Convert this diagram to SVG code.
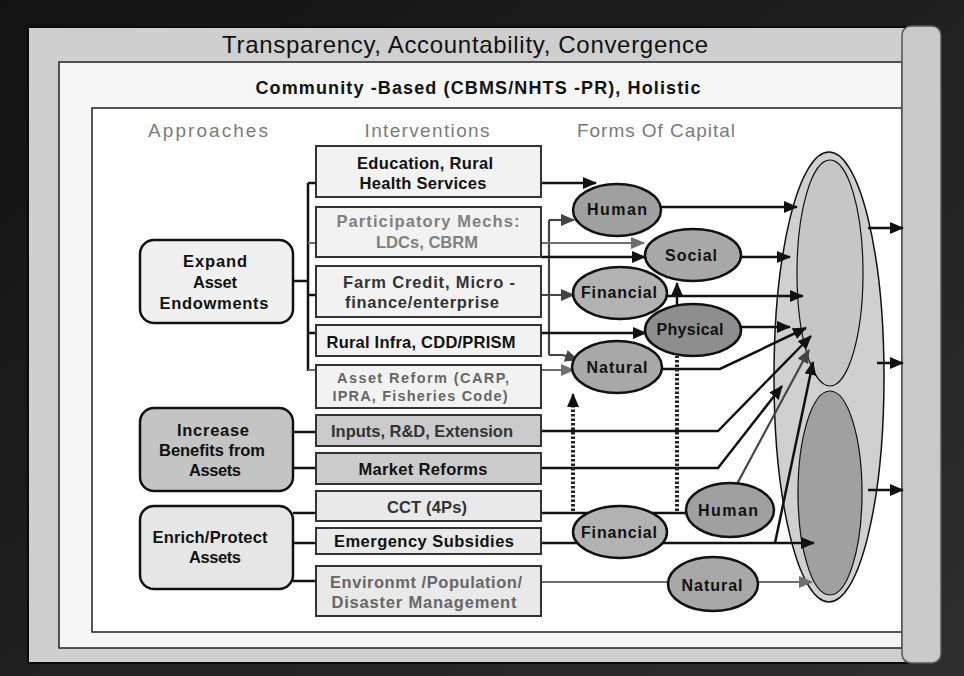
<svg xmlns="http://www.w3.org/2000/svg" width="964" height="676" viewBox="0 0 964 676">
<defs>
<linearGradient id="bg" x1="0" y1="0" x2="1" y2="1">
<stop offset="0" stop-color="#121212"/><stop offset="1" stop-color="#2e2e2e"/>
</linearGradient>
<marker id="ab" markerUnits="userSpaceOnUse" markerWidth="14" markerHeight="12" refX="13" refY="6" orient="auto"><path d="M0,0 L14,6 L0,12 z" fill="#111"/></marker>
<marker id="ad" markerUnits="userSpaceOnUse" markerWidth="14" markerHeight="12" refX="13" refY="6" orient="auto"><path d="M0,0 L14,6 L0,12 z" fill="#444"/></marker>
<marker id="ag" markerUnits="userSpaceOnUse" markerWidth="14" markerHeight="12" refX="13" refY="6" orient="auto"><path d="M0,0 L14,6 L0,12 z" fill="#6e6e6e"/></marker>
<style>
.t{font-family:"Liberation Sans",Arial,sans-serif;font-weight:bold;font-size:16.5px;text-anchor:middle}
.e{font-size:16px}
.s{font-size:14.5px}
.k{fill:#111}.d{fill:#333}.g{fill:#808080}.m{fill:#666}
.box{stroke:#333;stroke-width:2}
.lt{fill:#f2f2f2}.dk{fill:#cbcbcb}.md{fill:#e9e9e9}
.ap{stroke:#111;stroke-width:2.5}
.cap{stroke:#111;stroke-width:2.5}
.hd{font-family:"Liberation Sans",Arial,sans-serif;font-size:19px;fill:#7a7a7a;text-anchor:middle}
.c{fill:none;stroke:#111;stroke-width:2.5}
.cd{fill:none;stroke:#444;stroke-width:2.2}
.cg{fill:none;stroke:#6e6e6e;stroke-width:2.2}
.dot{fill:none;stroke:#222;stroke-width:4;stroke-dasharray:2.5 2}
</style>
</defs>
<rect width="964" height="676" fill="url(#bg)"/>
<g id="frames">
<rect x="28" y="27" width="880" height="636" fill="#cfcfcf" stroke="#0a0a0a" stroke-width="2"/>
<rect x="59" y="62" width="843" height="586" fill="#f6f6f6" stroke="#222" stroke-width="1.5"/>
<rect x="92" y="108" width="810" height="524" fill="#fff" stroke="#222" stroke-width="1.5"/>
<rect x="902" y="26" width="39" height="637" rx="9" fill="#c9c9c9" stroke="#555" stroke-width="1.5"/>
<text x="465" y="53" font-family="'Liberation Sans',Arial,sans-serif" font-size="24" fill="#111" text-anchor="middle" textLength="486">Transparency, Accountability, Convergence</text>
<text x="478" y="94" font-family="'Liberation Sans',Arial,sans-serif" font-size="18" font-weight="bold" fill="#111" text-anchor="middle" textLength="445">Community -Based (CBMS/NHTS -PR), Holistic</text>
<text class="hd" x="208" y="137" textLength="120">Approaches</text>
<text class="hd" x="427" y="137" textLength="125">Interventions</text>
<text class="hd" x="656" y="137" textLength="158">Forms Of Capital</text>
</g>
<g id="outcome">
<ellipse cx="829" cy="377" rx="55" ry="225" fill="#d0d0d0" stroke="#111" stroke-width="1.5"/>
<ellipse cx="830" cy="273" rx="33" ry="113" fill="#c6c6c6" stroke="#111" stroke-width="1.2"/>
<ellipse cx="830" cy="493" rx="32" ry="102" fill="#a0a0a0" stroke="#111" stroke-width="1.2"/>
</g>
<g id="connectors">
<path class="c" d="M293 281 H308 M308 183 V371 M308 183 H316 M308 295 H316 M308 333 H316"/>
<path class="cg" d="M308 243 H316 M308 370 H316"/>
<path class="c" d="M293 432 H316 M293 468 H316 M293 513 H316 M293 543 H316 M293 581 H316"/>
<path class="c" d="M541 183 H596" marker-end="url(#ab)"/>
<path class="cd" d="M549 220 V355"/>
<path class="cd" d="M549 220 H574" marker-end="url(#ad)"/>
<path class="cg" d="M541 243 H644" marker-end="url(#ag)"/>
<path class="c" d="M541 257 H645" marker-end="url(#ab)"/>
<path class="cd" d="M541 295 H574" marker-end="url(#ad)"/>
<path class="c" d="M541 333 H646" marker-end="url(#ab)"/>
<path class="cd" d="M549 355 H563 L578 360" marker-end="url(#ad)"/>
<path class="cg" d="M541 370 H574" marker-end="url(#ag)"/>
<path class="c" d="M660 207 H797" marker-end="url(#ab)"/>
<path class="c" d="M738 257 H790" marker-end="url(#ab)"/>
<path class="c" d="M665 296 H803" marker-end="url(#ab)"/>
<path class="c" d="M739 327 H790" marker-end="url(#ab)"/>
<path class="c" d="M660 369 H720 L806 328" marker-end="url(#ab)"/>
<path class="c" d="M541 431 H718 L811 336" marker-end="url(#ab)"/>
<path class="c" d="M541 468 H718 L782 386" marker-end="url(#ab)"/>
<path class="cd" d="M737 484 L809 350" marker-end="url(#ad)"/>
<path class="c" d="M541 513 H688"/>
<path class="c" d="M541 543 H814" marker-end="url(#ab)"/>
<path class="c" d="M775 543 L813 362" marker-end="url(#ab)"/>
<path class="cg" d="M541 582 H670 M756 582 H812" marker-end="url(#ag)"/>
<path class="dot" d="M573 511 V404"/>
<path class="c" d="M573 406 V394" marker-end="url(#ab)"/>
<path class="dot" d="M677 511 V356"/>
<path class="c" d="M677 305 V283" marker-end="url(#ab)"/>
<path class="c" d="M868 228 H903" marker-end="url(#ab)"/>
<path class="c" d="M877 363 H903" marker-end="url(#ab)"/>
<path class="c" d="M868 490 H903" marker-end="url(#ab)"/>
</g>
<g id="approach-expand"><rect class="ap" x="140" y="240" width="153" height="83" rx="14" fill="#f0f0f0"/>
<text class="t k" x="215" y="267" textLength="64">Expand</text><text class="t k" x="215" y="288" textLength="44">Asset</text><text class="t k" x="214" y="309" textLength="109">Endowments</text></g>
<g id="approach-increase"><rect class="ap" x="140" y="408" width="153" height="83" rx="14" fill="#c4c4c4"/>
<text class="t k" x="213" y="436" textLength="72">Increase</text><text class="t k" x="212" y="456" textLength="106">Benefits from</text><text class="t k" x="215" y="476" textLength="52">Assets</text></g>
<g id="approach-enrich"><rect class="ap" x="140" y="506" width="153" height="83" rx="14" fill="#e6e6e6"/>
<text class="t k" x="210" y="543" textLength="115">Enrich/Protect</text><text class="t k" x="215" y="563" textLength="52">Assets</text></g>
<g id="iv-education"><rect class="box lt" x="316" y="146" width="225" height="51"/>
<text class="t k" x="425" y="169" textLength="136">Education, Rural</text><text class="t k" x="423" y="189" textLength="127">Health Services</text></g>
<g id="iv-participatory"><rect class="box lt" x="316" y="207" width="225" height="50"/>
<text class="t g" x="428" y="227" textLength="183">Participatory Mechs:</text><text class="t g" x="427" y="248" textLength="102">LDCs, CBRM</text></g>
<g id="iv-farm"><rect class="box lt" x="316" y="266" width="225" height="51"/>
<text class="t d" x="429" y="288" textLength="172">Farm Credit, Micro -</text><text class="t d" x="422" y="308" textLength="154">finance/enterprise</text></g>
<g id="iv-rural"><rect class="box lt" x="316" y="325" width="225" height="31"/>
<text class="t k" x="421" y="348" textLength="189">Rural Infra, CDD/PRISM</text></g>
<g id="iv-asset"><rect class="box lt" x="316" y="365" width="225" height="43"/>
<text class="t s m" x="423" y="383" textLength="172">Asset Reform (CARP,</text><text class="t s m" x="420" y="401" textLength="175">IPRA, Fisheries Code)</text></g>
<g id="iv-inputs"><rect class="box dk" x="316" y="415" width="225" height="31"/>
<text class="t d" x="422" y="437" textLength="182">Inputs, R&amp;D, Extension</text></g>
<g id="iv-market"><rect class="box dk" x="316" y="453" width="225" height="31"/>
<text class="t k" x="423" y="475" textLength="129">Market Reforms</text></g>
<g id="iv-cct"><rect class="box md" x="316" y="491" width="225" height="30"/>
<text class="t d" x="427" y="513" textLength="80">CCT (4Ps)</text></g>
<g id="iv-emergency"><rect class="box md" x="316" y="528" width="225" height="26"/>
<text class="t k" x="424" y="547" textLength="180">Emergency Subsidies</text></g>
<g id="iv-environment"><rect class="box md" x="316" y="566" width="225" height="50"/>
<text class="t m" x="426" y="588" textLength="192">Environmt /Population/</text><text class="t m" x="424" y="608" textLength="185">Disaster Management</text></g>
<g id="cap-human"><ellipse class="cap" cx="617" cy="210" rx="44" ry="26" fill="#a0a0a0"/><text class="t e k" x="617" y="215" textLength="60">Human</text></g>
<g id="cap-social"><ellipse class="cap" cx="693" cy="255" rx="48" ry="26" fill="#a8a8a8"/><text class="t e k" x="691" y="261" textLength="52">Social</text></g>
<g id="cap-financial"><ellipse class="cap" cx="620" cy="293" rx="47" ry="26" fill="#b2b2b2"/><text class="t e k" x="619" y="298" textLength="76">Financial</text></g>
<g id="cap-physical"><ellipse class="cap" cx="693" cy="330" rx="48" ry="26" fill="#8e8e8e"/><text class="t e k" x="690" y="335" textLength="67">Physical</text></g>
<g id="cap-natural"><ellipse class="cap" cx="617" cy="367" rx="45" ry="26" fill="#a8a8a8"/><text class="t e k" x="617" y="373" textLength="61">Natural</text></g>
<g id="cap-financial2"><ellipse class="cap" cx="620" cy="532" rx="47" ry="26" fill="#b2b2b2"/><text class="t e k" x="619" y="538" textLength="76">Financial</text></g>
<g id="cap-human2"><ellipse class="cap" cx="730" cy="510" rx="44" ry="27" fill="#a0a0a0"/><text class="t e k" x="728" y="516" textLength="60">Human</text></g>
<g id="cap-natural2"><ellipse class="cap" cx="713" cy="584" rx="45" ry="27" fill="#a8a8a8"/><text class="t e k" x="712" y="591" textLength="61">Natural</text></g>
</svg>
